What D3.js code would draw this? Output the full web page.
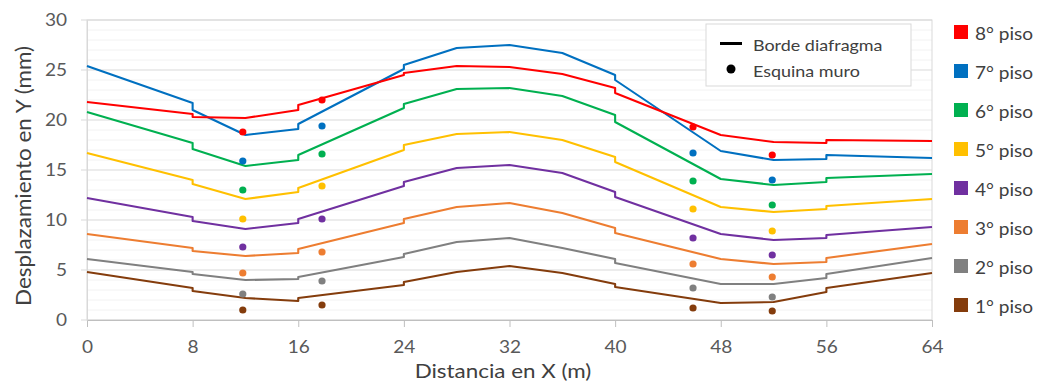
<!DOCTYPE html>
<html>
<head>
<meta charset="utf-8">
<script src="https://cdn.jsdelivr.net/npm/d3@7"></script>
<style>
  html, body { margin: 0; padding: 0; background: #fff; }
  svg { display: block; font-family: Lato, "Open Sans", sans-serif; }
</style>
</head>
<body>
<div id="chart"></div>
<script>
/* Desplazamiento en Y por piso — borde diafragma vs esquina muro */

// ---- Data ----
const floors = ['8° piso', '7° piso', '6° piso', '5° piso', '4° piso', '3° piso', '2° piso', '1° piso'];
const colors = ['#ff0000', '#0070c0', '#00b050', '#ffc000', '#7030a0', '#ed7d31', '#808080', '#843c0c'];

// x positions along the diaphragm edge (repeated x = small step in the line)
const edgeX = [0, 8, 8, 12, 16, 16, 24, 24, 28, 32, 36, 40, 40, 48, 52, 56, 56, 64];

const edge8 = [21.8, 20.6, 20.3, 20.2, 21.0, 21.5, 24.5, 24.7, 25.4, 25.3, 24.6, 23.2, 22.7, 18.5, 17.8, 17.7, 18.0, 17.9];
const edge7 = [25.4, 21.7, 21.0, 18.5, 19.1, 19.6, 25.1, 25.5, 27.2, 27.5, 26.7, 24.5, 24.0, 16.9, 16.0, 16.1, 16.5, 16.2];
const edge6 = [20.8, 17.7, 17.1, 15.4, 16.0, 16.5, 21.2, 21.6, 23.1, 23.2, 22.4, 20.5, 19.8, 14.1, 13.5, 13.8, 14.2, 14.6];
const edge5 = [16.7, 14.0, 13.6, 12.1, 12.8, 13.2, 17.0, 17.5, 18.6, 18.8, 18.0, 16.3, 15.8, 11.3, 10.8, 11.1, 11.4, 12.1];
const edge4 = [12.2, 10.3, 9.9, 9.1, 9.7, 10.1, 13.4, 13.8, 15.2, 15.5, 14.7, 12.8, 12.3, 8.6, 8.0, 8.2, 8.5, 9.3];
const edge3 = [8.6, 7.2, 6.9, 6.4, 6.7, 7.1, 9.7, 10.1, 11.3, 11.7, 10.7, 9.2, 8.7, 6.1, 5.6, 5.8, 6.2, 7.6];
const edge2 = [6.1, 4.8, 4.6, 4.0, 4.1, 4.3, 6.3, 6.6, 7.8, 8.2, 7.2, 6.1, 5.7, 3.6, 3.6, 4.2, 4.6, 6.2];
const edge1 = [4.8, 3.2, 2.9, 2.2, 1.9, 2.2, 3.5, 3.8, 4.8, 5.4, 4.7, 3.6, 3.3, 1.7, 1.8, 2.8, 3.2, 4.7];

// wall corner points
const wallX = [11.8, 17.8, 45.9, 51.9];
const wall8 = [18.8, 22.0, 19.3, 16.5];
const wall7 = [15.9, 19.4, 16.7, 14.0];
const wall6 = [13.0, 16.6, 13.9, 11.5];
const wall5 = [10.1, 13.4, 11.1, 8.9];
const wall4 = [7.3, 10.1, 8.2, 6.5];
const wall3 = [4.7, 6.8, 5.6, 4.3];
const wall2 = [2.6, 3.9, 3.2, 2.3];
const wall1 = [1.0, 1.5, 1.2, 0.9];

const xTicks = [0, 8, 16, 24, 32, 40, 48, 56, 64];
const yTicks = [0, 5, 10, 15, 20, 25, 30];

const edges = [edge8, edge7, edge6, edge5, edge4, edge3, edge2, edge1];
const walls = [wall8, wall7, wall6, wall5, wall4, wall3, wall2, wall1];

// ---- Layout ----
const W = 1040, H = 387;
const margin = { top: 20, right: 108, bottom: 67, left: 87 };
const innerWidth = W - margin.left - margin.right;
const innerHeight = H - margin.top - margin.bottom;
const textColor = '#404040';

const svg = d3.select('#chart').append('svg').attr('width', W).attr('height', H);
const g = svg.append('g').attr('transform', `translate(${margin.left},${margin.top})`);

const x = d3.scaleLinear().domain([0, 64]).range([0, innerWidth]);
const y = d3.scaleLinear().domain([0, 30]).range([innerHeight, 0]);

// the source font runs a bit wider than Lato: stretch texts along their run
function widen(sel, k = 1.12) {
  sel.each(function () {
    const len = this.getComputedTextLength();
    d3.select(this).attr('textLength', len * k).attr('lengthAdjust', 'spacingAndGlyphs');
  });
}

// ---- Grid ----
g.append('g')
  .selectAll('line').data(d3.range(1, 30).filter(v => v % 5 !== 0)).join('line')
  .attr('x1', 0).attr('x2', innerWidth)
  .attr('y1', d => y(d)).attr('y2', d => y(d))
  .attr('stroke', '#f2f2f2').attr('stroke-width', 1);

g.append('g')
  .selectAll('line').data(yTicks).join('line')
  .attr('x1', -6).attr('x2', innerWidth)
  .attr('y1', d => y(d)).attr('y2', d => y(d))
  .attr('stroke', '#d9d9d9').attr('stroke-width', 1);

// plot border
g.append('rect')
  .attr('x', 0).attr('y', 0).attr('width', innerWidth).attr('height', innerHeight)
  .attr('fill', 'none').attr('stroke', '#d9d9d9');

// ---- Axes ----
g.append('g')
  .attr('transform', `translate(0,${innerHeight})`)
  .call(d3.axisBottom(x).tickValues(xTicks).tickSize(7).tickPadding(14))
  .call(a => a.select('.domain').attr('stroke', '#bfbfbf'))
  .call(a => a.selectAll('line').attr('stroke', '#bfbfbf'))
  .call(a => a.selectAll('text').attr('font-size', '17px').attr('fill', '#595959').attr('font-family', 'Lato, sans-serif'))
  .call(a => widen(a.selectAll('text')));

g.append('g')
  .call(d3.axisLeft(y).tickValues(yTicks).tickSize(0).tickPadding(20))
  .call(a => a.select('.domain').attr('stroke', '#d9d9d9'))
  .call(a => a.selectAll('text').attr('font-size', '17px').attr('fill', '#595959').attr('font-family', 'Lato, sans-serif'))
  .call(a => widen(a.selectAll('text')));

// axis titles
svg.append('text')
  .attr('x', 503).attr('y', 378)
  .attr('text-anchor', 'middle')
  .attr('font-size', '20px').attr('fill', textColor)
  .text('Distancia en X (m)')
  .call(widen);

svg.append('text')
  .attr('transform', `translate(31,${margin.top + innerHeight / 2 + 6}) rotate(-90)`)
  .attr('text-anchor', 'middle')
  .attr('font-size', '21px').attr('fill', textColor)
  .text('Desplazamiento en Y (mm)')
  .call(widen, 1.07);

// ---- Lines (borde diafragma) ----
const line = d3.line().x(d => x(d[0])).y(d => y(d[1]));

g.append('g')
  .selectAll('path').data(edges.map((vals, i) => ({ vals, i })).reverse()).join('path')
  .attr('d', d => line(edgeX.map((xv, k) => [xv, d.vals[k]])))
  .attr('fill', 'none')
  .attr('stroke', d => colors[d.i])
  .attr('stroke-width', 2.1)
  .attr('stroke-linejoin', 'round');

// ---- Dots (esquina muro) ----
walls.forEach((vals, i) => {
  g.append('g')
    .selectAll('circle').data(vals).join('circle')
    .attr('cx', (d, k) => x(wallX[k]))
    .attr('cy', d => y(d))
    .attr('r', 3.6)
    .attr('fill', colors[i]);
});

// ---- Legend: series type ----
const lg = svg.append('g').attr('transform', 'translate(706,24)');
lg.append('rect')
  .attr('width', 205).attr('height', 62)
  .attr('fill', '#fff').attr('stroke', '#d9d9d9');
lg.append('line')
  .attr('x1', 14).attr('x2', 36).attr('y1', 19.5).attr('y2', 19.5)
  .attr('stroke', '#000').attr('stroke-width', 3);
lg.append('circle').attr('cx', 25).attr('cy', 45).attr('r', 4.5).attr('fill', '#000');
lg.append('text')
  .attr('x', 47).attr('y', 20).attr('dominant-baseline', 'central')
  .attr('font-size', '16px').attr('fill', textColor)
  .text('Borde diafragma')
  .call(widen);
lg.append('text')
  .attr('x', 47).attr('y', 46).attr('dominant-baseline', 'central')
  .attr('font-size', '16px').attr('fill', textColor)
  .text('Esquina muro')
  .call(widen);

// ---- Legend: floors ----
const fl = svg.append('g').attr('transform', 'translate(954,32)');
const item = fl.selectAll('g').data(floors).join('g')
  .attr('transform', (d, i) => `translate(0,${i * 39})`);
item.append('rect')
  .attr('x', 0).attr('y', -7).attr('width', 14).attr('height', 14)
  .attr('fill', (d, i) => colors[i]);
item.append('text')
  .attr('x', 21).attr('y', 1).attr('dominant-baseline', 'central')
  .attr('font-size', '17px').attr('fill', textColor)
  .text(d => d)
  .call(widen);
</script>
</body>
</html>
